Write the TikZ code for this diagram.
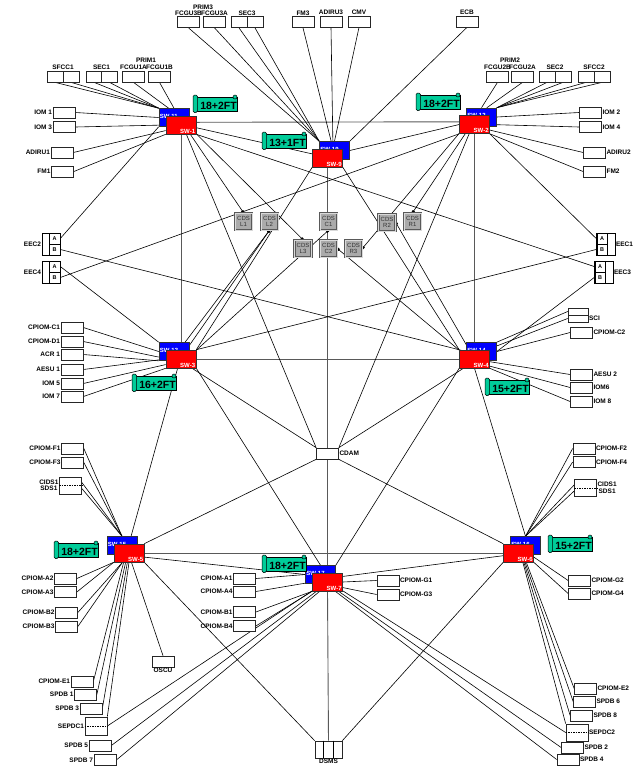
\documentclass[tikz,border=0pt]{standalone}
\usepackage{fontspec}
\setmainfont{Liberation Sans}
\usetikzlibrary{arrows.meta}
\pgfdeclarelayer{background}
\pgfsetlayers{background,main}
\definecolor{swred}{RGB}{255,0,0}
\definecolor{swblue}{RGB}{0,0,255}
\definecolor{ftgreen}{RGB}{0,204,153}
\definecolor{cdsgray}{RGB}{170,170,170}

% banner: name, x, y, text
\newcommand{\ftbanner}[4]{%
	\draw[fill=ftgreen, line width=0.5pt] (#2+3,#3+3) rectangle (#2+44,#3+17);
	\draw[fill=ftgreen, line width=0.5pt] (#2+42,#3+3) circle (2pt);
	\draw[fill=ftgreen, line width=0.5pt, rounded corners=1.5pt] (#2,#3+1) rectangle (#2+4.5,#3+18.5);
	\node[fttext] (#1) at (#2+25.5,#3+11.5) {#4};
}

\begin{document}
\begin{tikzpicture}[x=1pt,y=1pt,yscale=-1,
	lbl/.style={font=\fontsize{6.5}{6.5}\selectfont\bfseries, inner sep=0.5pt, align=center},
	box/.style={draw=black!85, line width=0.7pt, fill=white, minimum width=22pt, minimum height=11pt, inner sep=0, label distance=1.5pt},
	halfbox/.style={box, minimum width=16pt},
	abbox/.style={draw, line width=0.6pt, minimum width=11pt, minimum height=11pt, inner sep=0, font=\fontsize{5.5}{5.5}\selectfont\bfseries},
	eecbox/.style={draw, line width=0.7pt, fill=white, minimum width=18pt, minimum height=22pt, inner sep=0, label distance=3pt},
	swr/.style={draw=black!80, line width=0.6pt, fill=swred, minimum width=30pt, minimum height=18pt, inner sep=0},
	swb/.style={swr, fill=swblue},
	swtext/.style={text=white, font=\fontsize{6}{6}\selectfont\bfseries, inner sep=1pt},
	cds/.style={draw=black!65, double=black!15, double distance=1pt, line width=0.6pt, fill=cdsgray, minimum width=17pt, minimum height=17pt, inner sep=0, align=center, font=\fontsize{6}{5.5}\selectfont, text=black!80},
	fttext/.style={font=\fontsize{10.5}{10.5}\selectfont\bfseries, inner sep=0},
	link/.style={line width=0.6pt},
	trunk/.style={line width=0.9pt, draw=black!65},
	cdslink/.style={line width=0.6pt, -{Square[length=2.4pt,width=2.4pt]}},
	dashmid/.style={line width=0.4pt, dash pattern=on 1.5pt off 1pt}
	]
	\useasboundingbox (0,0) rectangle (642,769);
	
	% switches (blue behind red)
	\foreach \n/\x/\y/\dx in {1/181/125/-7, 2/474.5/124.5/7, 3/181/359/-7, 4/474.5/359/7, 5/129/553/-7, 6/518.5/553/7, 7/327.5/582/-7, 9/327.5/158/7} {
		\node[swb, label={[swtext,anchor=west,yshift=1.5pt]west:SW-1\n}] (sw1\n) at (\x+\dx,\y-7.5) {};
		\node[swr, label={[swtext,anchor=south east]south east:SW-\n}] (sw\n) at (\x,\y) {};
	}
	
	% CDS units
	\foreach \n/\t/\x/\y in {l1/L1/243.5/221.5, l2/L2/269.5/221.5, c1/C1/328.5/221.5, r2/R2/387/222.5, r1/R1/412.5/221.5, l3/L3/303/248.5, c2/C2/328.5/248.5, r3/R3/353.5/248.5}
		\node[cds] (cds\n) at (\x,\y) {CDS\\\t};
	
	% top row
	\node[lbl] (prim3) at (203,7) {PRIM3};
	\node[box, label={[lbl]above:FCGU3B}] (fcgu3b) at (188.5,22) {};
	\node[box, label={[lbl]above:FCGU3A}] (fcgu3a) at (214.5,22) {};
	\node[halfbox] (sec3a) at (239,22) {};
	\node[halfbox] (sec3b) at (255,22) {};
	\node[lbl] (sec3) at (247,13) {SEC3};
	\node[box, label={[lbl]above:FM3}] (fm3) at (303,22) {};
	\node[box, label={[lbl]above:ADIRU3}] (adiru3) at (331,21.5) {};
	\node[box, label={[lbl]above:CMV}] (cmv) at (359,21.5) {};
	\node[box, label={[lbl]above:ECB}] (ecb) at (467,21.5) {};
	
	\node[halfbox] (sfcc1a) at (55,76.5) {};
	\node[halfbox] (sfcc1b) at (71,76.5) {};
	\node[lbl] (sfcc1) at (63,67.5) {SFCC1};
	\node[halfbox] (sec1a) at (94,76.5) {};
	\node[halfbox] (sec1b) at (109.5,76.5) {};
	\node[lbl] (sec1) at (101.5,67.5) {SEC1};
	\node[lbl] (prim1) at (146,60.5) {PRIM1};
	\node[box, label={[lbl]above:FCGU1A}] (fcgu1a) at (133.5,76.5) {};
	\node[box, label={[lbl]above:FCGU1B}] (fcgu1b) at (159.5,76.5) {};
	
	\node[lbl] (prim2) at (510,60.5) {PRIM2};
	\node[box, label={[lbl]above:FCGU2B}] (fcgu2b) at (497.5,76.5) {};
	\node[box, label={[lbl]above:FCGU2A}] (fcgu2a) at (522.5,76.5) {};
	\node[halfbox] (sec2a) at (547,76.5) {};
	\node[halfbox] (sec2b) at (563,76.5) {};
	\node[lbl] (sec2) at (555,67.5) {SEC2};
	\node[halfbox] (sfcc2a) at (586,76.5) {};
	\node[halfbox] (sfcc2b) at (602,76.5) {};
	\node[lbl] (sfcc2) at (594,67.5) {SFCC2};
	
	% SW-1 / SW-2 sides
	\node[box, label={[lbl]left:IOM 1}] (iom1) at (64,112.5) {};
	\node[box, label={[lbl]left:IOM 3}] (iom3) at (64,127) {};
	\node[box, label={[lbl]left:ADIRU1}] (adiru1) at (62,152.5) {};
	\node[box, label={[lbl]left:FM1}] (fm1) at (62.5,171.5) {};
	\node[box, label={[lbl]right:IOM 2}] (iom2) at (590.5,112.5) {};
	\node[box, label={[lbl]right:IOM 4}] (iom4) at (590.5,127) {};
	\node[box, label={[lbl]right:ADIRU2}] (adiru2) at (594.5,152.5) {};
	\node[box, label={[lbl]right:FM2}] (fm2) at (594.5,171.5) {};
	
	% EEC
	\node[eecbox, label={[lbl]left:EEC2}] (eec2) at (51,244) {};
	\node[abbox] (eec2a) at (54.5,238.5) {A};
	\node[abbox] (eec2b) at (54.5,249.5) {B};
	\node[eecbox, label={[lbl]left:EEC4}] (eec4) at (51,272) {};
	\node[abbox] (eec4a) at (54.5,266.5) {A};
	\node[abbox] (eec4b) at (54.5,277.5) {B};
	\node[eecbox, label={[lbl]right:EEC1}] (eec1) at (606,244) {};
	\node[abbox] (eec1a) at (602,238.5) {A};
	\node[abbox] (eec1b) at (602,249.5) {B};
	\node[eecbox, label={[lbl]right:EEC3}] (eec3) at (604,272) {};
	\node[abbox] (eec3a) at (600,266.5) {A};
	\node[abbox] (eec3b) at (600,277.5) {B};
	
	% SW-3 / SW-4 sides
	\node[box, label={[lbl]left:CPIOM-C1}] (cpiomc1) at (72,327.5) {};
	\node[box, label={[lbl]left:CPIOM-D1}] (cpiomd1) at (72,341.5) {};
	\node[box, label={[lbl]left:ACR 1}] (acr1) at (72,354.5) {};
	\node[box, label={[lbl]left:AESU 1}] (aesu1) at (72,369.5) {};
	\node[box, label={[lbl]left:IOM 5}] (iom5) at (72,383.5) {};
	\node[box, label={[lbl]left:IOM 7}] (iom7) at (72,396.5) {};
	\node[box, minimum width=20pt, minimum height=7pt] (sci1) at (578,311.5) {};
	\node[box, minimum width=20pt, minimum height=7pt, label distance=7pt, label={[lbl]right:SCI}] (sci2) at (578,318.5) {};
	\node[box, label={[lbl]right:CPIOM-C2}] (cpiomc2) at (581.5,332.5) {};
	\node[box, label distance=5pt, label={[lbl]right:AESU 2}] (aesu2) at (581.5,374.5) {};
	\node[box, label={[lbl]right:IOM6}] (iom6) at (581.5,387.5) {};
	\node[box, label={[lbl]right:IOM 8}] (iom8) at (581.5,401.5) {};
	
	\node[box, label={[lbl]right:CDAM}] (cdam) at (327.5,453.5) {};
	
	% SW-5 side
	\node[box, label={[lbl]left:CPIOM-F1}] (cpiomf1) at (72.5,448.5) {};
	\node[box, label={[lbl]left:CPIOM-F3}] (cpiomf3) at (72.5,462.5) {};
	\node[box, minimum height=17pt, label distance=6pt, label={[lbl]left:CIDS1\\SDS1}] (cids1) at (70.5,485.5) {};
	\node[box, label={[lbl]left:CPIOM-A2}] (cpioma2) at (65.5,578.5) {};
	\node[box, label={[lbl]left:CPIOM-A3}] (cpioma3) at (65.5,592) {};
	\node[box, label distance=3pt, label={[lbl]left:CPIOM-B2}] (cpiomb2) at (66.5,612.5) {};
	\node[box, label distance=3pt, label={[lbl]left:CPIOM-B3}] (cpiomb3) at (66.5,626.5) {};
	\node[box, label distance=5pt, label={[lbl]below:OSCU}] (oscu) at (163,661.5) {};
	\node[box, label={[lbl]left:CPIOM-E1}] (cpiome1) at (82,681.5) {};
	\node[box, label={[lbl]left:SPDB 1}] (spdb1) at (85.5,694.5) {};
	\node[box, label={[lbl]left:SPDB 3}] (spdb3) at (91,708.5) {};
	\node[box, minimum height=18pt, label={[lbl]left:SEPDC1}] (sepdc1) at (96,726) {};
	\node[box, label={[lbl]left:SPDB 5}] (spdb5) at (100,745.5) {};
	\node[box, label={[lbl]left:SPDB 7}] (spdb7) at (105,760) {};
	
	% SW-7 side
	\node[box, label={[lbl]left:CPIOM-A1}] (cpioma1) at (244.5,578.5) {};
	\node[box, label={[lbl]left:CPIOM-A4}] (cpioma4) at (244.5,591.5) {};
	\node[box, label={[lbl]left:CPIOM-B1}] (cpiomb1) at (244.5,612) {};
	\node[box, label={[lbl]left:CPIOM-B4}] (cpiomb4) at (244.5,626) {};
	\node[box, label distance=3pt, label={[lbl]right:CPIOM-G1}] (cpiomg1) at (388,580.5) {};
	\node[box, label distance=3pt, label={[lbl]right:CPIOM-G3}] (cpiomg3) at (388,594.5) {};
	\node[box, minimum width=27pt, minimum height=17pt, label={[lbl]below:DSMS}] (dsms) at (328.5,749.5) {};
	
	% SW-6 side
	\node[box, label={[lbl]right:CPIOM-F2}] (cpiomf2) at (584,448.5) {};
	\node[box, label={[lbl]right:CPIOM-F4}] (cpiomf4) at (584,462) {};
	\node[box, minimum height=17pt, label distance=6pt, label={[lbl]right:CIDS1\\SDS1}] (cids2) at (585.5,488) {};
	\node[box, label distance=3pt, label={[lbl]right:CPIOM-G2}] (cpiomg2) at (579.5,580.5) {};
	\node[box, label distance=3pt, label={[lbl]right:CPIOM-G4}] (cpiomg4) at (579.5,593.5) {};
	\node[box, label={[lbl]right:CPIOM-E2}] (cpiome2) at (585.5,688.5) {};
	\node[box, label distance=7pt, label={[lbl]right:SPDB 6}] (spdb6) at (584.5,701.5) {};
	\node[box, label distance=5pt, label={[lbl]right:SPDB 8}] (spdb8) at (581.5,715.5) {};
	\node[box, minimum height=17pt, label distance=3pt, label={[lbl]right:SEPDC2}] (sepdc2) at (577,732.5) {};
	\node[box, label={[lbl]right:SPDB 2}] (spdb2) at (572.5,747.5) {};
	\node[box, label={[lbl]right:SPDB 4}] (spdb4) at (568,759.5) {};
	
	% inner marks of split boxes
	\draw[dashmid] (cids1.west) -- (cids1.east);
	\draw[dashmid] (cids2.west) -- (cids2.east);
	\draw[dashmid] (sepdc1.west) -- (sepdc1.east);
	\draw[dashmid] (sepdc2.west) -- (sepdc2.east);
	\draw[line width=0.6pt] ([xshift=-5.5pt]dsms.north) -- ([xshift=-5.5pt]dsms.south);
	\draw[line width=0.6pt] ([xshift=4.5pt]dsms.north) -- ([xshift=4.5pt]dsms.south);
	
	% FT banners
	\ftbanner{ft1}{193}{94}{18+2FT}
	\ftbanner{ft9}{262}{131}{13+1FT}
	\ftbanner{ft2}{416}{92}{18+2FT}
	\ftbanner{ft3}{132}{373}{16+2FT}
	\ftbanner{ft4}{485}{377}{15+2FT}
	\ftbanner{ft5}{54}{540}{18+2FT}
	\ftbanner{ft7}{262}{554}{18+2FT}
	\ftbanner{ft6}{548}{534}{15+2FT}
	
	\begin{pgfonlayer}{background}
		% backbone
		\draw[trunk] (sw1.10) -- (sw2.170);
		\draw[trunk] (sw1.south) -- (sw3.north);
		\draw[trunk] (sw2.south) -- (sw4.north);
		\draw[trunk] (sw3.east) -- (sw4.west);
		\draw[trunk] (sw5.east) -- (sw6.west);
		\draw[trunk] (sw9.south) -- (cdam.north);
		\draw[trunk] (cdam.south) -- (sw7.north);
		\draw[trunk] (sw7.south) -- (dsms.north);
		
		% switch to switch
		\draw[link] (sw1.-10) -- (sw9.165);
		\draw[link] (sw2.west) -- (sw19.east);
		\draw[link] (sw9.south west) -- (sw3.north east);
		\draw[link] (sw9.south east) -- (sw4.north west);
		\draw[link] (sw3.250) -- (sw5.north);
		\draw[link] (sw4.south) -- (sw16.north);
		\draw[link] (sw3.south east) -- (sw17.north);
		\draw[link] (sw4.south west) -- (sw17.north east);
		\draw[link] (sw5.-15) -- (sw17.west);
		\draw[link] (sw7.20) -- (sw6.190);
		\draw[link] (sw1.-60) -- (cdam.north west);
		\draw[link] (sw2.-120) -- (cdam.north east);
		\draw[link] (sw3.-40) -- (cdam.north west);
		\draw[link] (sw4.-140) -- (cdam.north east);
		\draw[link] (cdam.south west) -- (sw5.north east);
		\draw[link] (cdam.south east) -- (sw6.north west);
		\draw[link] (sw5.south east) -- (dsms.north west);
		\draw[link] (sw6.south west) -- (dsms.north east);
		
		% EEC
		\draw[link] (eec2a.east) -- (sw11.south west);
		\draw[link] (eec2b.east) -- (sw14.west);
		\draw[link] (eec4a.east) -- (sw13.north west);
		\draw[link] (eec4b.east) -- (sw2.south west);
		\draw[link] (eec1a.west) -- (sw2.south east);
		\draw[link] (eec1b.west) -- (sw3.north east);
		\draw[link] (eec3a.west) -- (sw1.south east);
		\draw[link] (eec3b.west) -- (sw14.east);
		
		% CDS
		\draw[cdslink] (sw1.-45) -- (cdsl1.north);
		\draw[cdslink] (sw3.60) -- (cdsl2.south);
		\draw[cdslink] (sw13.40) -- (cdsl2.south);
		\draw[cdslink] (sw1.-30) -- (cdsl3.north);
		\draw[cdslink] (sw3.30) -- (cdsc1.south);
		\draw[cdslink] (sw4.150) -- (cdsc2.east);
		\draw[cdslink] (sw2.-150) -- (cdsr3.east);
		\draw[cdslink] (sw4.120) -- (cdsr2.east);
		\draw[cdslink] (sw2.-135) -- (cdsr1.north);
		
		% SW-1
		\draw[link] (sfcc1a.south) -- (sw11.north west);
		\draw[link] (sfcc1b.south) -- (sw11.north west);
		\draw[link] (sec1a.south) -- (sw11.north west);
		\draw[link] (sec1b.south) -- (sw11.north west);
		\draw[link] (fcgu1a.south) -- (sw11.120);
		\draw[link] (fcgu1b.south) -- (sw11.north);
		\draw[link] (iom1.east) -- (sw11.west);
		\draw[link] (iom3.east) -- (sw1.west);
		\draw[link] (adiru1.east) -- (sw1.200);
		\draw[link] (fm1.east) -- (sw1.south west);
		
		% SW-9
		\draw[link] (fcgu3b.south) -- (sw19.north west);
		\draw[link] (fcgu3a.south) -- (sw19.north west);
		\draw[link] (sec3a.south) -- (sw19.north west);
		\draw[link] (sec3b.south) -- (sw19.north west);
		\draw[link] (fm3.south) -- (sw19.110);
		\draw[link] (adiru3.south) -- (sw19.100);
		\draw[link] (cmv.south) -- (sw19.north);
		\draw[link] (ecb.south) -- (sw19.north east);
		
		% SW-2
		\draw[link] (fcgu2b.south) -- (sw12.north);
		\draw[link] (fcgu2a.south) -- (sw12.60);
		\draw[link] (sec2a.south) -- (sw12.north east);
		\draw[link] (sec2b.south) -- (sw12.north east);
		\draw[link] (sfcc2a.south) -- (sw12.north east);
		\draw[link] (sfcc2b.south) -- (sw12.north east);
		\draw[link] (iom2.west) -- (sw12.east);
		\draw[link] (iom4.west) -- (sw2.east);
		\draw[link] (adiru2.west) -- (sw2.-20);
		\draw[link] (fm2.west) -- (sw2.south east);
		
		% SW-3
		\draw[link] (cpiomc1.east) -- (sw13.west);
		\draw[link] (cpiomd1.east) -- (sw13.200);
		\draw[link] (acr1.east) -- (sw13.south west);
		\draw[link] (aesu1.east) -- (sw3.west);
		\draw[link] (iom5.east) -- (sw3.200);
		\draw[link] (iom7.east) -- (sw3.south west);
		
		% SW-4
		\draw[link] (sci1.west) -- (sw14.north east);
		\draw[link] (sci2.west) -- (sw14.20);
		\draw[link] (cpiomc2.west) -- (sw14.east);
		\draw[link] (aesu2.west) -- (sw4.-10);
		\draw[link] (iom6.west) -- (sw4.-25);
		\draw[link] (iom8.west) -- (sw4.south east);
		
		% SW-5
		\draw[link] (cpiomf1.east) -- (sw15.north);
		\draw[link] (cpiomf3.east) -- (sw15.north);
		\draw[link] (cids1.15) -- (sw15.north);
		\draw[link] (cids1.-15) -- (sw15.north);
		\draw[link] (cpioma2.east) -- (sw5.south west);
		\draw[link] (cpioma3.east) -- (sw5.south west);
		\draw[link] (cpiomb2.east) -- (sw5.-125);
		\draw[link] (cpiomb3.east) -- (sw5.-125);
		\draw[link] (oscu.north) -- (sw5.-75);
		\draw[link] (cpiome1.east) -- (sw5.-120);
		\draw[link] (spdb1.east) -- (sw5.-110);
		\draw[link] (spdb3.east) -- (sw5.-100);
		\draw[link] (sepdc1.north east) -- (sw5.-90);
		
		% SW-7
		\draw[link] (cpioma1.east) -- (sw17.west);
		\draw[link] (cpioma4.east) -- (sw7.west);
		\draw[link] (cpiomb1.east) -- (sw7.south west);
		\draw[link] (cpiomb4.east) -- (sw7.south west);
		\draw[link] (cpiomg1.west) -- (sw7.east);
		\draw[link] (cpiomg3.west) -- (sw7.-20);
		\draw[link] (sepdc1.east) -- (sw7.-150);
		\draw[link] (spdb5.east) -- (sw7.-140);
		\draw[link] (spdb7.east) -- (sw7.-130);
		\draw[link] (sepdc2.west) -- (sw7.-30);
		\draw[link] (spdb2.west) -- (sw7.-40);
		\draw[link] (spdb4.west) -- (sw7.-50);
		
		% SW-6
		\draw[link] (cpiomf2.west) -- (sw16.north);
		\draw[link] (cpiomf4.west) -- (sw16.north);
		\draw[link] (cids2.165) -- (sw16.north);
		\draw[link] (cids2.195) -- (sw16.north);
		\draw[link] (cpiomg2.west) -- (sw6.-15);
		\draw[link] (cpiomg4.west) -- (sw6.south east);
		\draw[link] (cpiome2.west) -- (sw6.-50);
		\draw[link] (spdb6.west) -- (sw6.-55);
		\draw[link] (spdb8.west) -- (sw6.-60);
		\draw[link] (sepdc2.north west) -- (sw6.-65);
	\end{pgfonlayer}
\end{tikzpicture}
\end{document}
